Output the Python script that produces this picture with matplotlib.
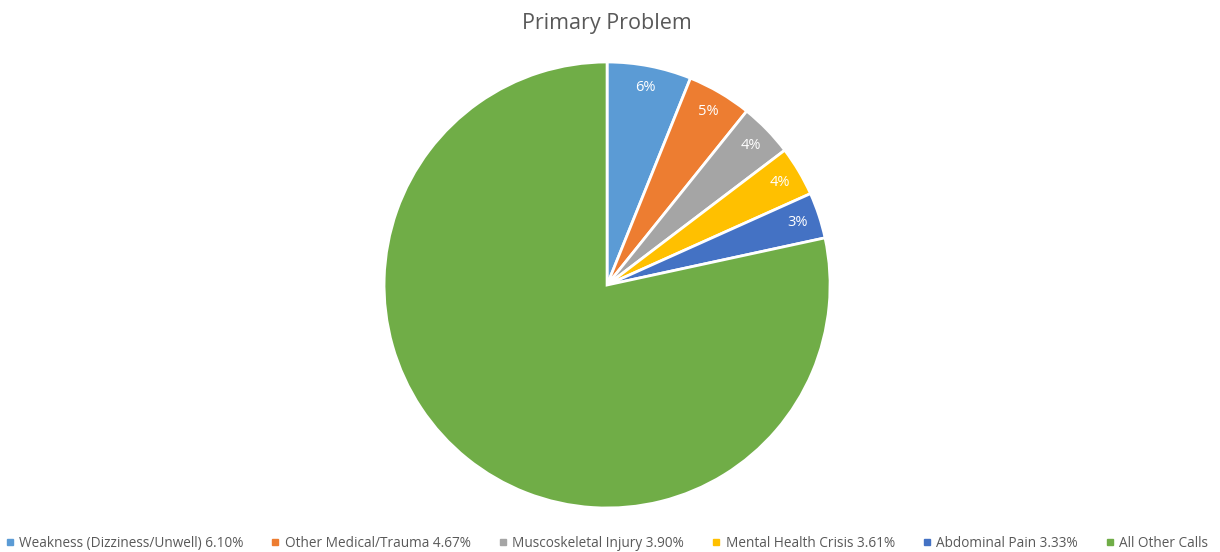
import matplotlib.pyplot as plt
from matplotlib.lines import Line2D
import numpy as np

plt.rcParams['font.family'] = ['Open Sans', 'DejaVu Sans']

categories = ['Weakness (Dizziness/Unwell) 6.10%', 'Other Medical/Trauma 4.67%',
              'Muscoskeletal Injury 3.90%', 'Mental Health Crisis 3.61%',
              'Abdominal Pain 3.33%', 'All Other Calls']
values = [6.10, 4.67, 3.90, 3.61, 3.33, 78.39]
slice_labels = ['6%', '5%', '4%', '4%', '3%', '']
colors = ['#5B9BD5', '#ED7D31', '#A5A5A5', '#FFC000', '#4472C4', '#70AD47']

fig = plt.figure(figsize=(12.2, 5.52), dpi=100)
ax = fig.add_axes([0.3148, 0.0797, 0.3656, 0.808])

wedges, texts = ax.pie(values, colors=colors, startangle=90, counterclock=False,
                       radius=1, wedgeprops=dict(edgecolor='white', linewidth=2))
# percentage labels placed inside slices
total = sum(values)
ang = 90.0
for v, lab in zip(values, slice_labels):
    span = 360.0 * v / total
    mid = np.deg2rad(ang - span / 2)
    ang -= span
    if lab:
        ax.text(0.9 * np.cos(mid), 0.9 * np.sin(mid), lab, ha='center', va='center',
                color='white', fontsize=10.5)
ax.set_xlim(-1, 1)
ax.set_ylim(-1, 1)
ax.set_aspect('equal')

fig.text(0.4975, 0.958, 'Primary Problem', ha='center', va='center',
         fontsize=15.5, color='#595959')

handles = [Line2D([], [], marker='s', linestyle='', markersize=5,
                  markerfacecolor=c, markeredgecolor=c) for c in colors]
fig.legend(handles, categories, loc='lower center', bbox_to_anchor=(0.4975, -0.02),
           ncol=6, frameon=False, fontsize=9.8, labelcolor='#595959',
           handlelength=0.6, handletextpad=0.4, columnspacing=2.05)

fig.savefig('out.png', dpi=100)
